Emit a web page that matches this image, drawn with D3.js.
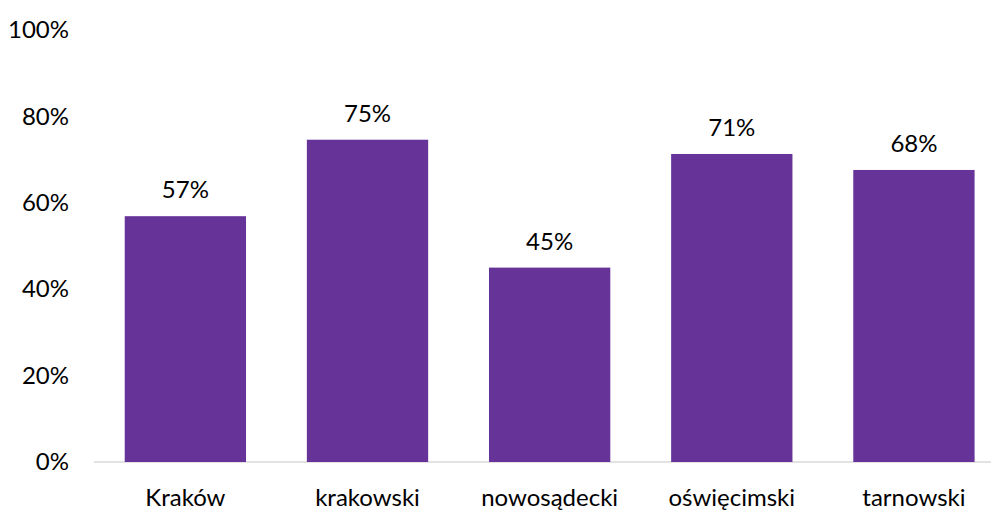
<html>
<head>
  <meta charset='utf-8' />
  <style>
    text { font-family: Lato, 'Open Sans', sans-serif; fill: #000; }
  </style>
</head>
<body style='padding: 0; margin: 0;'>
  <svg width='991' height='511' style='background-color: white; display: block'></svg>
</body>

<script src="https://d3js.org/d3.v7.min.js"></script>

<script>
  // data
  categories = ['Kraków', 'krakowski', 'nowosądecki', 'oświęcimski', 'tarnowski'];
  values = [56.9, 74.6, 45.0, 71.3, 67.6];
  yTicks = [0, 20, 40, 60, 80, 100];

  svg = d3.select('svg');

  scaleX = d3.scaleBand()
    .domain(categories)
    .range([94.3, 1005])
    .paddingInner(0.334)
    .paddingOuter(0.167);

  scaleY = d3.scaleLinear()
    .domain([0, 100])
    .range([462, 30]);

  // baseline
  svg.append('line')
    .attr('x1', 94).attr('x2', 991)
    .attr('y1', scaleY(0)).attr('y2', scaleY(0))
    .style('stroke', '#d9d9d9')
    .style('stroke-width', 1.5);

  // y axis labels only
  yAxis = d3.axisLeft(scaleY)
    .tickValues(yTicks)
    .tickFormat(d => d + '%')
    .tickSize(0)
    .tickPadding(0);

  svg.append('g')
    .attr('transform', 'translate(69, 0)')
    .call(yAxis)
    .call(g => g.select('.domain').remove())
    .selectAll('text')
    .style('font-size', '24px')
    .style('font-family', null);

  // bars
  bars = svg.append('g').attr('id', 'bars');

  bars.selectAll('rect')
    .data(values)
    .enter().append('rect')
    .attr('x', (d, i) => scaleX(categories[i]))
    .attr('y', d => scaleY(d))
    .attr('width', scaleX.bandwidth())
    .attr('height', d => scaleY(0) - scaleY(d))
    .style('fill', '#663399');

  bars.selectAll('text')
    .data(values)
    .enter().append('text')
    .attr('x', (d, i) => scaleX(categories[i]) + scaleX.bandwidth() / 2)
    .attr('y', d => scaleY(d) - 18)
    .attr('text-anchor', 'middle')
    .style('font-size', '24px')
    .text(d => Math.round(d) + '%');

  // category labels
  svg.append('g')
    .selectAll('text')
    .data(categories)
    .enter().append('text')
    .attr('x', d => scaleX(d) + scaleX.bandwidth() / 2)
    .attr('y', 506)
    .attr('text-anchor', 'middle')
    .style('font-size', '24px')
    .text(d => d);
</script>
</html>
